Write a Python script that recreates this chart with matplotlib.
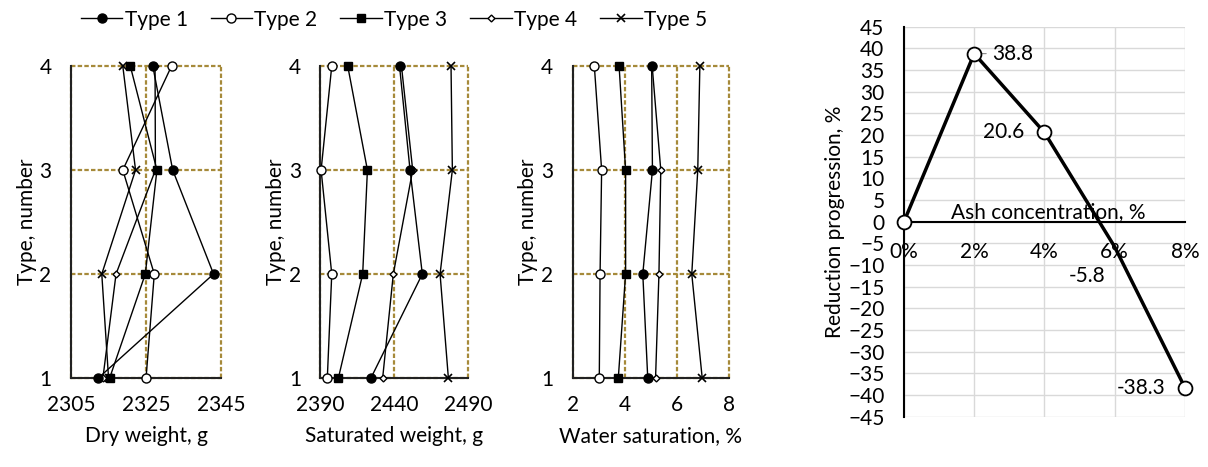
import matplotlib
matplotlib.use("Agg")
import matplotlib.pyplot as plt

plt.rcParams["font.family"] = ["Lato", "DejaVu Sans"]
plt.rcParams["font.size"] = 15

# type number (y axis of the three left panels)
types = [1, 2, 3, 4]
series_names = ["Type 1", "Type 2", "Type 3", "Type 4", "Type 5"]

# dry weight, g  (values at type 1..4)
dry_t1 = [2312.3, 2343.0, 2332.1, 2326.8]
dry_t2 = [2325.0, 2327.2, 2318.8, 2331.8]
dry_t3 = [2315.3, 2324.8, 2327.9, 2320.8]
dry_t4 = [2313.5, 2317.0, 2327.5, 2327.4]
dry_t5 = [2315.0, 2313.2, 2322.2, 2318.8]

# saturated weight, g
sat_t1 = [2424.2, 2458.9, 2450.6, 2443.5]
sat_t2 = [2394.7, 2397.7, 2390.5, 2397.7]
sat_t3 = [2402.2, 2418.6, 2421.8, 2408.5]
sat_t4 = [2432.1, 2439.3, 2452.4, 2444.8]
sat_t5 = [2476.5, 2470.9, 2479.2, 2478.3]

# water saturation, %
ws_t1 = [4.88, 4.69, 5.06, 5.03]
ws_t2 = [3.02, 3.05, 3.11, 2.83]
ws_t3 = [3.75, 4.03, 4.03, 3.78]
ws_t4 = [5.18, 5.31, 5.38, 5.05]
ws_t5 = [6.97, 6.57, 6.80, 6.88]

# right chart
ash = [0, 2, 4, 6, 8]
reduction = [0, 38.8, 20.6, -5.8, -38.3]

gold = "#A68A3A"
styles = [
    dict(marker="o", ms=6.5, mfc="black", mec="black", zorder=3),
    dict(marker="o", ms=6.5, mfc="white", mec="black", zorder=3),
    dict(marker="s", ms=6, mfc="black", mec="black", zorder=3),
    dict(marker="D", ms=3.5, mfc="white", mec="black", zorder=2.8),
    dict(marker="x", ms=5.5, mfc="black", mec="black", mew=1.2, zorder=3),
]


def well_panel(ax, data, xlim, xticks, xlabel):
    for vals, st, name in zip(data, styles, series_names):
        ax.plot(vals, types, color="black", lw=1, label=name,
                clip_on=False, **st)
    ax.set_xlim(xlim)
    ax.set_ylim(1, 4)
    ax.set_xticks(xticks)
    ax.set_yticks(types)
    ax.tick_params(length=0, pad=14, labelsize=15)
    ax.tick_params(axis="x", pad=12)
    for s in ["top", "right"]:
        ax.spines[s].set_visible(False)
    for s in ["left", "bottom"]:
        ax.spines[s].set_linewidth(1.5)
        ax.spines[s].set_color("#222222")
    ax.grid(True, ls=(0, (2, 1)), color=gold, lw=1.6, zorder=1)
    for gl in ax.get_xgridlines() + ax.get_ygridlines():
        gl.set_clip_on(False)
    ax.set_axisbelow(True)
    ax.set_xlabel(xlabel, fontsize=15, labelpad=8)
    ax.set_ylabel("Type, number", fontsize=15, labelpad=2)


fig = plt.figure(figsize=(12.08, 4.67), dpi=100)

ax1 = fig.add_axes([0.0588, 0.1906, 0.1242, 0.668])
ax2 = fig.add_axes([0.2652, 0.1906, 0.1225, 0.668])
ax3 = fig.add_axes([0.4741, 0.1906, 0.1294, 0.668])

well_panel(ax1, [dry_t1, dry_t2, dry_t3, dry_t4, dry_t5], (2305, 2345),
           [2305, 2325, 2345], "Dry weight, g")
well_panel(ax2, [sat_t1, sat_t2, sat_t3, sat_t4, sat_t5], (2390, 2490),
           [2390, 2440, 2490], "Saturated weight, g")
well_panel(ax3, [ws_t1, ws_t2, ws_t3, ws_t4, ws_t5], (2, 8),
           [2, 4, 6, 8], "Water saturation, %")

handles, labels = ax1.get_legend_handles_labels()
fig.legend(handles, labels, loc="center", bbox_to_anchor=(0.326, 0.958),
           ncol=5, frameon=False, fontsize=15, handlelength=2.0,
           handletextpad=0.1, columnspacing=1.1)

# right chart
ax4 = fig.add_axes([0.7483, 0.1077, 0.2326, 0.835])
ax4.plot(ash, reduction, color="black", lw=2.5, marker="o", ms=10,
         mfc="white", mec="black", mew=1.3, markevery=[0, 1, 2, 4],
         clip_on=False, zorder=4)
ax4.set_xlim(0, 8)
ax4.set_ylim(-45, 45)
ax4.set_yticks(range(-45, 50, 5))
ax4.set_xticks(ash)
ax4.set_xticklabels([])
ax4.tick_params(length=0, labelsize=15)
ax4.tick_params(axis="y", pad=14)
ax4.grid(True, color="#D9D9D9", lw=1, zorder=0)
ax4.set_axisbelow(True)
for s in ["top", "right"]:
    ax4.spines[s].set_visible(False)
ax4.spines["bottom"].set_position(("data", 0))
ax4.spines["left"].set_linewidth(1.5)
ax4.spines["bottom"].set_linewidth(1.5)
for x in ash:
    ax4.text(x, -7, f"{x}%", ha="center", va="center", fontsize=15)
ax4.text(4.1, 2.2, "Ash concentration, %", ha="center", va="center", fontsize=15)
ax4.set_ylabel("Reduction progression, %", fontsize=15, labelpad=2)

ax4.annotate("38.8", xy=(2, reduction[1]), xytext=(2.5, reduction[1]),
             ha="left", va="center", fontsize=15,
             arrowprops=dict(arrowstyle="-", color="#888888", lw=0.8,
                             shrinkA=2, shrinkB=4))
ax4.text(3.42, reduction[2], "20.6", ha="right", va="center", fontsize=15)
ax4.text(5.2, -12.5, "-5.8", ha="center", va="center", fontsize=15)
ax4.text(7.45, reduction[4], "-38.3", ha="right", va="center", fontsize=15)

fig.savefig("out.png", dpi=100)
